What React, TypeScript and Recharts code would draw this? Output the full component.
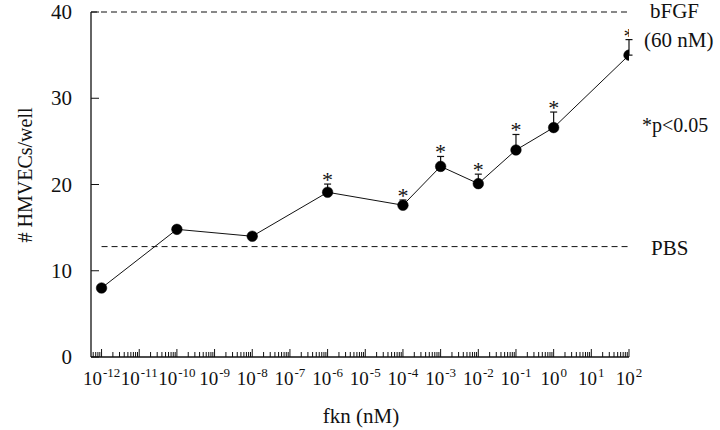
import React from 'react';
import { LineChart, Line, XAxis, YAxis, ReferenceLine, ErrorBar, Customized } from 'recharts';

const concentrations = [1e-12, 1e-10, 1e-8, 1e-6, 1e-4, 1e-3, 1e-2, 1e-1, 1e0, 1e2];
const cellCounts = [8.0, 14.8, 14.0, 19.1, 17.6, 22.1, 20.1, 24.0, 26.6, 35.0];
const upperErrors = [0, 0, 0, 0.95, 0.6, 1.15, 1.1, 1.8, 1.8, 1.8];
const significant = [false, false, false, true, true, true, true, true, true, true];
const majorExponents = [-12, -11, -10, -9, -8, -7, -6, -5, -4, -3, -2, -1, 0, 1, 2];
const yTicks = [0, 10, 20, 30, 40];
const bfgfLevel = 40;
const pbsLevel = 12.8;
const xDomainMinExp = -12.28;
const xDomainMaxExp = 2;

const FONT = 'Liberation Serif';
const INK = '#111';
const serif = { fontFamily: FONT };

const data = concentrations.map((x, i) => ({
  x,
  y: cellCounts[i],
  err: [0, upperErrors[i]],
  star: significant[i] ? cellCounts[i] + upperErrors[i] : null,
}));

const xTicks: number[] = [];
for (let d = Math.floor(xDomainMinExp); d <= xDomainMaxExp; d++) {
  for (let m = 1; m <= 9; m++) {
    const v = Number(`${m}e${d}`);
    const lv = Math.log10(v);
    if (lv >= xDomainMinExp - 1e-9 && lv <= xDomainMaxExp + 1e-9) xTicks.push(v);
  }
}

const XTick = (props: any) => {
  const { x, y, payload } = props;
  const lv = Math.log10(payload.value);
  const exp = Math.round(lv);
  const isMajor = Math.abs(lv - exp) < 1e-6 && majorExponents.includes(exp);
  return (
    <g>
      <line x1={x} x2={x} y1={y} y2={y - (isMajor ? 8 : 5)} stroke={INK} strokeWidth={1} />
      {isMajor && (
        <text x={x} y={y + 28} textAnchor="middle" style={serif} fill={INK}>
          <tspan fontSize={19}>10</tspan>
          <tspan fontSize={13} dx={1} dy={-8}>{exp < 0 ? `-${-exp}` : `${exp}`}</tspan>
        </text>
      )}
    </g>
  );
};

const YTick = (props: any) => {
  const { x, y, payload } = props;
  return (
    <g>
      <line x1={x + 19} x2={x + 27} y1={y} y2={y} stroke={INK} strokeWidth={1} />
      <text x={x} y={y + 7} textAnchor="end" style={serif} fontSize={21} fill={INK}>
        {payload.value}
      </text>
    </g>
  );
};

const StarDot = (props: any) => {
  const { cx, cy, index } = props;
  if (cx == null || cy == null || !significant[index]) return <g key={`s${index}`} />;
  return (
    <text key={`s${index}`} x={cx} y={cy + 3} textAnchor="middle" style={serif} fontSize={22} fill={INK}>
      *
    </text>
  );
};

const Titles = () => (
  <g style={serif} fill={INK}>
    <text x={32} y={175} transform="rotate(-90 32 175)" textAnchor="middle" fontSize={20} style={serif}>
      # HMVECs/well
    </text>
    <text x={361} y={423} textAnchor="middle" fontSize={21} style={serif}>
      fkn (nM)
    </text>
    <text x={642} y={132} fontSize={20} style={serif}>
      *p&lt;0.05
    </text>
  </g>
);

export default function App() {
  return (
    <div style={{ position: 'absolute', left: 0, top: 0, width: 720, height: 430, background: '#fff' }}>
      <LineChart width={720} height={430} data={data} margin={{ top: 12, right: 91, left: 0, bottom: 0 }}>
        <XAxis
          dataKey="x"
          type="number"
          scale="log"
          domain={[Math.pow(10, xDomainMinExp), Math.pow(10, xDomainMaxExp)]}
          allowDataOverflow
          ticks={xTicks}
          interval={0}
          tick={(p: any) => <XTick {...p} />}
          tickLine={false}
          tickSize={0}
          tickMargin={0}
          axisLine={{ stroke: INK, strokeWidth: 1.3 }}
          height={73}
        />
        <YAxis
          type="number"
          domain={[0, 40]}
          ticks={yTicks}
          interval={0}
          width={91}
          tick={(p: any) => <YTick {...p} />}
          tickLine={false}
          tickSize={0}
          tickMargin={19}
          axisLine={{ stroke: INK, strokeWidth: 1.3 }}
        />
        <ReferenceLine
          y={bfgfLevel}
          stroke={INK}
          strokeWidth={1}
          strokeDasharray="6 4"
          label={(p: any) => {
            const vb = p.viewBox || {};
            const ex = (vb.x || 0) + (vb.width || 0);
            const ey = vb.y || 0;
            return (
              <g style={serif} fill={INK} fontSize={21}>
                <text x={ex + 21} y={ey + 6} style={serif}>bFGF</text>
                <text x={ex + 15} y={ey + 35} style={serif}>(60 nM)</text>
              </g>
            );
          }}
        />
        <ReferenceLine
          segment={[
            { x: concentrations[0], y: pbsLevel },
            { x: concentrations[concentrations.length - 1], y: pbsLevel },
          ]}
          stroke={INK}
          strokeWidth={1}
          strokeDasharray="6 4"
          label={(p: any) => {
            const vb = p.viewBox || {};
            const ex = (vb.x || 0) + (vb.width || 0);
            const ey = vb.y || 0;
            return (
              <text x={ex + 22} y={ey + 8} style={serif} fill={INK} fontSize={21}>
                PBS
              </text>
            );
          }}
        />
        <Line
          dataKey="y"
          stroke={INK}
          strokeWidth={1}
          isAnimationActive={false}
          dot={{ r: 5.3, fill: '#000', stroke: '#000', strokeWidth: 0.5 }}
          activeDot={false}
        >
          <ErrorBar dataKey="err" direction="y" width={3.5} stroke={INK} strokeWidth={1.2} isAnimationActive={false} />
        </Line>
        <Line
          dataKey="star"
          stroke="none"
          isAnimationActive={false}
          dot={StarDot}
          activeDot={false}
          legendType="none"
        />
        <Customized component={Titles} />
      </LineChart>
    </div>
  );
}
